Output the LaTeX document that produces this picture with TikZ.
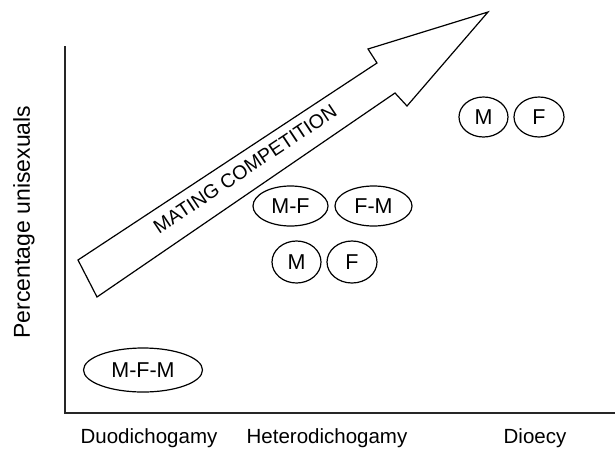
\documentclass[tikz,border=0pt]{standalone}
\usepackage{fontspec}
\setmainfont{Liberation Sans}
\usetikzlibrary{shapes.geometric}
\begin{document}
\begin{tikzpicture}[x=1pt,y=-1pt,
  axis/.style={line width=1.6pt,draw=black!85},
  oval/.style={ellipse,draw,line width=1.2pt,inner sep=0pt,font=\fontsize{21.5}{23}\selectfont},
  lab/.style={font=\fontsize{20.5}{23}\selectfont,inner sep=0pt},
  bigarrow/.style={draw,line width=1.2pt,fill=white,line join=miter}]
\useasboundingbox (0,0) rectangle (615,458);
% axes
\coordinate (ytop) at (65,46);
\coordinate (orig) at (65,413);
\coordinate (xend) at (615,413);
\draw[axis] (ytop) -- (orig) -- (xend);
% arrow
\coordinate (t1) at (78,260);
\coordinate (n1) at (377,63);
\coordinate (b1) at (368,49);
\coordinate (tip) at (488,12);
\coordinate (b2) at (407,106);
\coordinate (n2) at (395,93);
\coordinate (t2) at (97,297);
\draw[bigarrow] (t1) -- (n1) -- (b1) -- (tip) -- (b2) -- (n2) -- (t2) -- cycle;
\node[lab,rotate=33.7,font=\fontsize{19.5}{21}\selectfont] (mc) at (245,169) {MATING COMPETITION};
% ovals
\node[oval,minimum width=119pt,minimum height=44pt] (mfm) at (143,370) {M-F-M};
\node[oval,minimum width=75pt,minimum height=40pt] (mf) at (290.5,206) {M-F};
\node[oval,minimum width=77pt,minimum height=40pt] (fm) at (373.5,206) {F-M};
\node[oval,minimum width=49pt,minimum height=42pt] (m1) at (296.5,262) {M};
\node[oval,minimum width=50pt,minimum height=42pt] (f1) at (352,262) {F};
\node[oval,minimum width=49pt,minimum height=40pt] (m2) at (483.5,117) {M};
\node[oval,minimum width=50pt,minimum height=40pt] (f2) at (539,117) {F};
% labels
\node[lab] (duo) at (149,438) {Duodichogamy};
\node[lab] (het) at (327,438) {Heterodichogamy};
\node[lab] (dio) at (535,438) {Dioecy};
\node[lab,rotate=90,font=\fontsize{23}{25}\selectfont] (ylab) at (24,222) {Percentage unisexuals};
\end{tikzpicture}
\end{document}
